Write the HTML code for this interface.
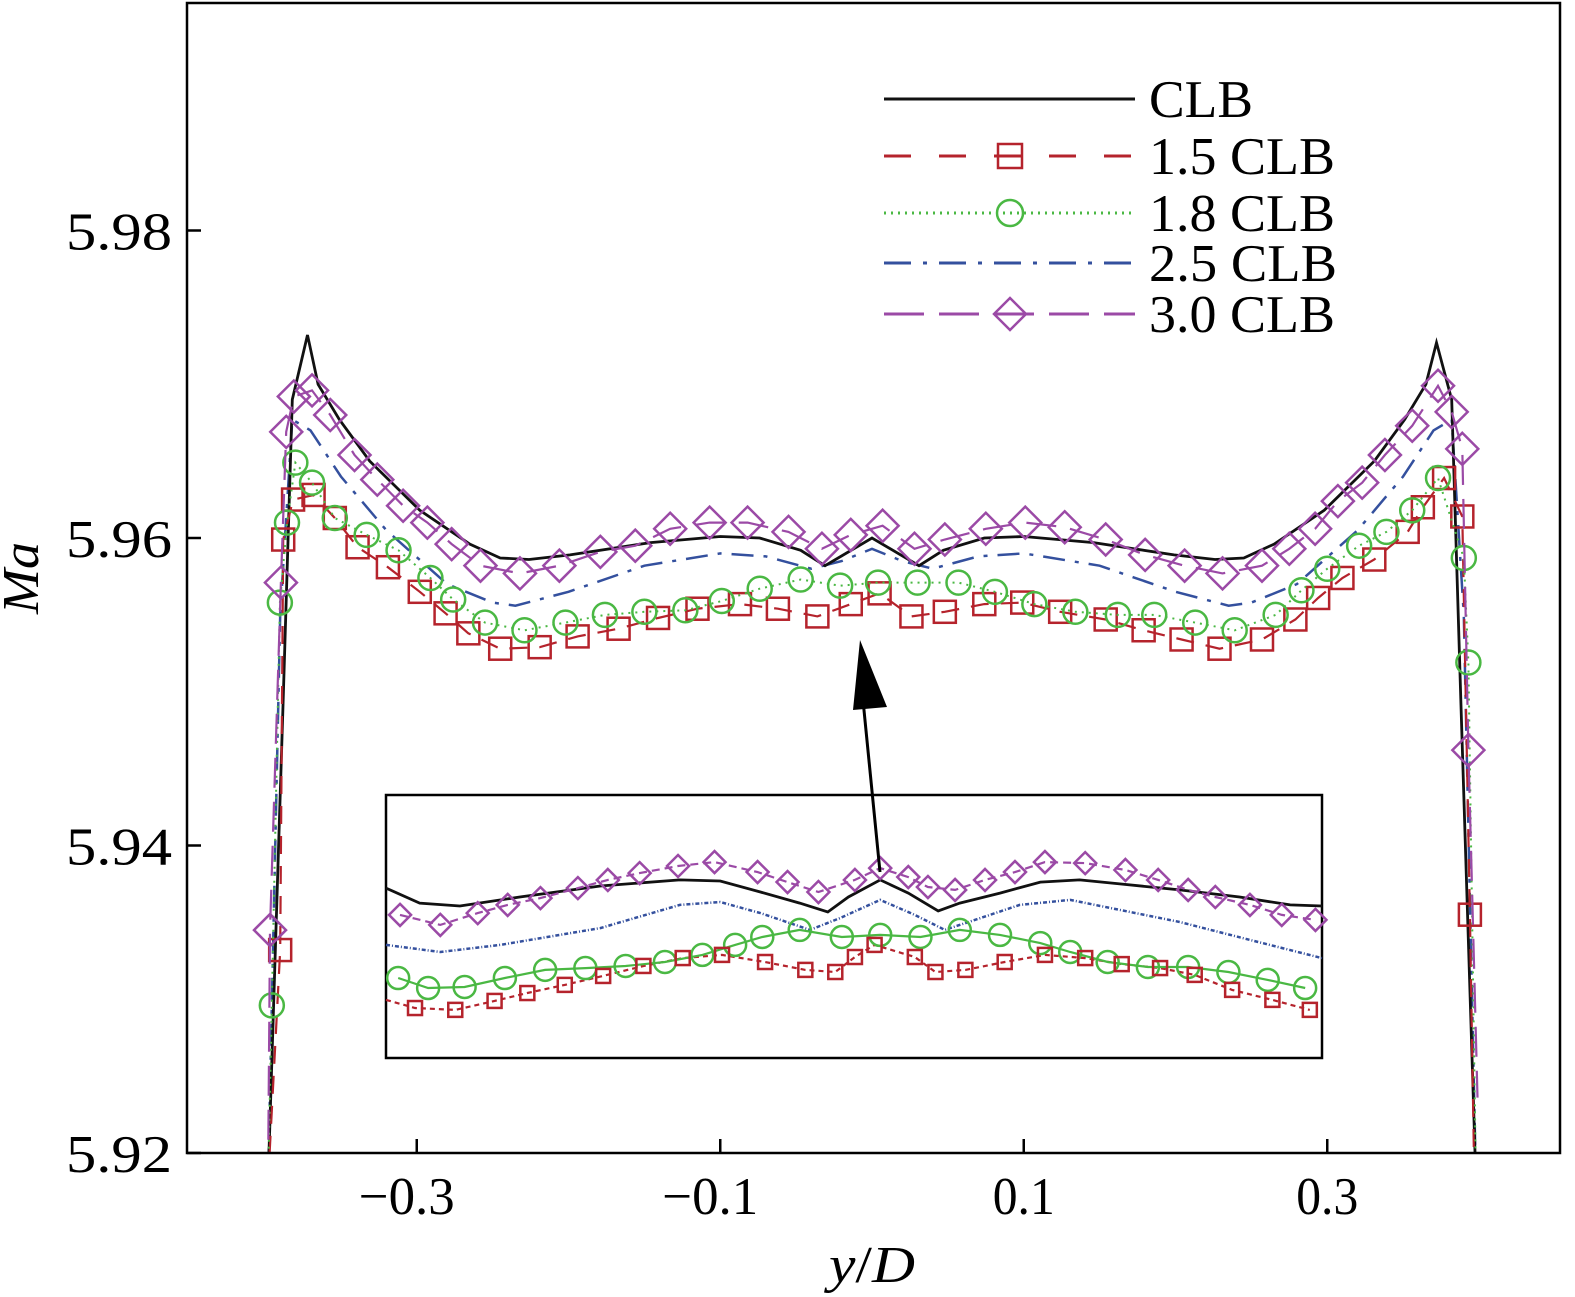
<!DOCTYPE html>
<html><head><meta charset="utf-8"><style>
html,body{margin:0;padding:0;background:#fff;}
svg{display:block;font-family:"Liberation Serif",serif;}
</style></head><body>
<svg id="chart" width="1575" height="1297" viewBox="0 0 1575 1297">
<defs><clipPath id="pc"><rect x="187" y="3" width="1373" height="1150"/></clipPath></defs>
<g id="series" clip-path="url(#pc)"></g>
<g id="inset"></g>
<rect x="187" y="3" width="1373" height="1150" fill="none" stroke="#000" stroke-width="2.5"/>
<g id="axes"></g>
<text x="38" y="578" font-size="52" font-style="italic" text-anchor="middle" transform="rotate(-90 38 578)" textLength="72" lengthAdjust="spacingAndGlyphs">Ma</text>
<text x="872" y="1282" font-size="52" text-anchor="middle" textLength="86" lengthAdjust="spacingAndGlyphs"><tspan font-style="italic">y</tspan>/<tspan font-style="italic">D</tspan></text>
<g id="legend"></g>
<line x1="880" y1="872" x2="862" y2="690" stroke="#000" stroke-width="3"/>
<polygon points="860,640 853,710 887,707" fill="#000"/>
</svg>
<script>
// ---- main chart data ----
const yTicks=[5.92,5.94,5.96,5.98];
const yTickLabels=["5.92","5.94","5.96","5.98"];
const xTicks=[-0.3,-0.1,0.1,0.3];
const xTickLabels=["\u22120.3","\u22120.1","0.1","0.3"];
const clbX=[-0.398,-0.388,-0.382,-0.372,-0.365,-0.351,-0.331,-0.298,-0.265,-0.245,-0.226,-0.199,-0.146,-0.1,-0.074,-0.047,-0.031,0,0.031,0.047,0.074,0.1,0.146,0.199,0.226,0.245,0.265,0.298,0.331,0.351,0.365,0.372,0.382,0.388,0.398];
const clbY=[5.918,5.9495,5.969,5.9732,5.970,5.9677,5.965,5.9618,5.9596,5.9587,5.9586,5.9589,5.9597,5.9601,5.960,5.9592,5.9582,5.960,5.9582,5.9592,5.960,5.9601,5.9597,5.9589,5.9586,5.9587,5.9596,5.9618,5.965,5.9677,5.970,5.9727,5.969,5.9495,5.918];
const b25X=[-0.398,-0.39,-0.382,-0.37,-0.35,-0.32,-0.28,-0.25,-0.235,-0.2,-0.15,-0.1,-0.07,-0.04,-0.02,0,0.02,0.04,0.07,0.1,0.15,0.2,0.235,0.25,0.28,0.32,0.35,0.37,0.382,0.39,0.398];
const b25Y=[5.918,5.955,5.9677,5.967,5.964,5.9605,5.957,5.9558,5.9556,5.9565,5.9582,5.959,5.9588,5.958,5.9585,5.9593,5.9585,5.958,5.9588,5.959,5.9582,5.9565,5.9556,5.9558,5.957,5.9605,5.964,5.967,5.9677,5.955,5.918];
const p30X=[-0.398,-0.3967,-0.3895,-0.386,-0.381,-0.369,-0.357,-0.341,-0.326,-0.309,-0.293,-0.277,-0.258,-0.232,-0.206,-0.179,-0.156,-0.133,-0.107,-0.082,-0.055,-0.033,-0.014,0.007,0.028,0.048,0.075,0.101,0.127,0.154,0.18,0.206,0.231,0.257,0.275,0.292,0.307,0.323,0.338,0.356,0.373,0.382,0.389,0.393,0.399];
const p30Y=[5.918,5.9345,5.9571,5.9669,5.9692,5.9696,5.968,5.9654,5.9638,5.9621,5.961,5.9596,5.9582,5.9577,5.9582,5.9591,5.9595,5.9606,5.961,5.961,5.9604,5.9593,5.9602,5.9608,5.9593,5.9599,5.9606,5.961,5.9607,5.9599,5.9589,5.9582,5.9577,5.9582,5.9593,5.9606,5.9624,5.9636,5.9654,5.9673,5.9699,5.9682,5.9658,5.9462,5.9236];
const r15X=[-0.398,-0.390,-0.388,-0.3815,-0.368,-0.354,-0.339,-0.319,-0.298,-0.281,-0.266,-0.245,-0.219,-0.194,-0.167,-0.141,-0.115,-0.087,-0.062,-0.036,-0.014,0.005,0.026,0.048,0.074,0.099,0.124,0.154,0.179,0.204,0.229,0.257,0.279,0.294,0.310,0.331,0.353,0.363,0.377,0.389,0.394,0.397];
const r15Y=[5.918,5.9332,5.9599,5.9625,5.9628,5.9613,5.9594,5.9581,5.9565,5.9551,5.9538,5.9528,5.9529,5.9536,5.9541,5.9548,5.9554,5.9557,5.9554,5.9549,5.9557,5.9564,5.9549,5.9552,5.9557,5.9558,5.9552,5.9547,5.954,5.9534,5.9528,5.9534,5.9547,5.9561,5.9574,5.9586,5.9604,5.962,5.9639,5.9614,5.9355,5.918];
const g18X=[-0.398,-0.3955,-0.3902,-0.3855,-0.380,-0.369,-0.354,-0.333,-0.312,-0.291,-0.276,-0.255,-0.229,-0.202,-0.176,-0.150,-0.123,-0.099,-0.074,-0.047,-0.021,0.004,0.030,0.057,0.081,0.107,0.134,0.162,0.186,0.213,0.239,0.266,0.283,0.300,0.321,0.339,0.356,0.373,0.390,0.393,0.398];
const g18Y=[5.918,5.9296,5.9558,5.961,5.9649,5.9636,5.9613,5.9602,5.9592,5.9574,5.956,5.9545,5.954,5.9545,5.955,5.9552,5.9553,5.9559,5.9567,5.9573,5.9569,5.9571,5.9571,5.9571,5.9565,5.9557,5.9552,5.955,5.955,5.9545,5.954,5.955,5.9566,5.958,5.9595,5.9604,5.9618,5.9639,5.9587,5.9519,5.918];
// ---- inset data (inset units 0..100) ----
const inPX=[1.5,5.8,9.8,13,16.5,20.5,23.7,27.1,31.2,35.1,39.7,42.9,46.2,50.1,52.8,55.8,57.9,60.8,64,67.2,70.4,74.7,79,82.5,85.7,88.6,92.3,95.7,99.3];
const inPY=[54.4,50.6,55.1,58.2,60.8,64.6,67.7,70.3,73,74.5,70.7,66.9,63.1,67.7,72.2,68.8,65,63.9,67.7,70.7,74.5,74.1,71.5,67.7,63.9,61.2,58.2,54.4,52.5];
const inKX=[0,3.6,7.9,14.3,22.9,31.4,35.7,40,44.2,47.2,49.4,52.8,55.8,59,61.3,65.6,69.9,74.1,78.4,84.8,91.2,96.6,100];
const inKY=[64.6,58.9,57.8,61.2,65.4,67.7,67.3,63.1,58.9,55.5,61.2,67.7,62.7,55.9,58.9,62.7,66.9,67.7,66.2,63.9,61.2,58.2,57.8];
const inBX=[0,5.8,12.2,22.9,31.4,35.7,40,45.3,48.5,52.8,56.5,59.7,63.5,67.7,73.1,78.4,84.8,92.3,100];
const inBY=[43,40.3,43,49.4,58.2,59.3,55.1,48.7,53.2,60.1,54.4,48.7,53.2,58.2,60.1,56.3,51.7,44.9,38];
const inGX=[1.3,4.5,8.4,12.7,17,21.3,25.6,29.8,33.8,37.3,40.2,44.2,48.7,52.8,57.1,61.3,65.6,69.9,73.1,77.1,81.4,85.7,90,94.2,98.2];
const inGY=[30.4,26.6,27,30.4,33.5,34.2,35,36.5,39.2,43,46,48.7,46,46.8,46,48.7,46.8,43.7,40.3,36.5,34.6,34.6,32.7,29.7,26.6];
const inRX=[0,3.1,7.4,11.6,15.1,19.1,23.2,27.5,31.7,35.9,40.5,44.8,48,50.1,52.2,56.5,58.7,61.9,66.1,70.4,74.7,78.6,82.7,86.4,90.4,94.7,98.7];
const inRY=[22.1,19,18.3,21.7,24.7,27.8,31.2,35,38,39.2,36.5,33.5,32.7,38.4,43,38.4,32.7,33.5,36.5,39.2,38,35.7,34.2,31.6,25.9,22.1,18.3];

const NS="http://www.w3.org/2000/svg";
const sx=v=>872+v*1517.5;
const sy=v=>1153-(v-5.92)*15375;
const ix=u=>386+u*9.36;
const iy=v=>1058-v*2.63;
function mk(tag,attrs,parent){const e=document.createElementNS(NS,tag);for(const k in attrs)e.setAttribute(k,attrs[k]);parent.appendChild(e);return e;}
function pathD(xs,ys,fx,fy){return xs.map((x,i)=>(i?"L":"M")+fx(x).toFixed(1)+","+fy(ys[i]).toFixed(1)).join("");}
function marker(type,cx,cy,col,sz,parent){
  let e;
  if(type==="sq"){e=mk("rect",{x:cx-sz,y:cy-sz,width:2*sz,height:2*sz,fill:"none",stroke:col,"stroke-width":2.5},parent);}
  else if(type==="ci"){e=mk("circle",{cx:cx,cy:cy,r:sz,fill:"none",stroke:col,"stroke-width":2.5},parent);}
  else {e=mk("polygon",{points:`${cx},${cy-sz} ${cx+sz},${cy} ${cx},${cy+sz} ${cx-sz},${cy}`,fill:"none",stroke:col,"stroke-width":2.5},parent);}
  return e;
}
const RED="#b5232c",GRN="#4ab843",BLU="#34509e",PUR="#9b4aa6";
const S=document.getElementById("series");
function series(name,xs,ys,col,dash,w,mtype,msz,fx,fy,parent,skipFirstMarker){
  const g=mk("g",{},parent);
  
  
  const p=mk("path",{d:pathD(xs,ys,fx,fy),fill:"none",stroke:col,"stroke-width":w,"stroke-dasharray":dash},g);
  
  
  if(mtype){xs.forEach((x,i)=>{if(skipFirstMarker&&(i===0||i===xs.length-1))return;
    const m=marker(mtype,fx(x),fy(ys[i]),col,msz,g);
    
    });}
}
series("series-2.5clb",b25X,b25Y,BLU,"22 10 4 10",2.5,null,0,sx,sy,S);
series("series-clb",clbX,clbY,"#111","",2.8,null,0,sx,sy,S);
series("series-1.5clb",r15X,r15Y,RED,"18 12",2.2,"sq",11,sx,sy,S,true);
series("series-1.8clb",g18X,g18Y,GRN,"2 5",2,"ci",12,sx,sy,S,true);
series("series-3.0clb",p30X,p30Y,PUR,"30 14",2.2,"di",16,sx,sy,S,true);

// inset
const I=document.getElementById("inset");
const ib=mk("rect",{x:386,y:795,width:936,height:263,fill:"#fff",stroke:"#000","stroke-width":2.5},I);


series("inset-2.5clb",inBX,inBY,BLU,"4 2 1 2",2.5,null,0,ix,iy,I);
series("inset-clb",inKX,inKY,"#111","",2.8,null,0,ix,iy,I);
series("inset-1.5clb",inRX,inRY,RED,"5 4",2.2,null,0,ix,iy,I);
series("inset-1.8clb",inGX,inGY,GRN,"",2.2,"ci",11,ix,iy,I);
series("inset-3.0clb",inPX,inPY,PUR,"8 5",2.2,"di",11,ix,iy,I);
inRX.forEach((x,i)=>{if(i===0)return;
  const m=marker("sq",ix(x),iy(inRY[i]),RED,7,I);
  
  });

// axes
const A=document.getElementById("axes");
yTicks.forEach((v,i)=>{
  const t=mk("line",{x1:187,x2:201,y1:sy(v),y2:sy(v),stroke:"#000","stroke-width":2.5},A);
  
  
  const l=mk("text",{x:66,y:sy(v)+19,"font-size":53,textLength:106,lengthAdjust:"spacingAndGlyphs"},A);
  l.textContent=yTickLabels[i];
  
  
});
xTicks.forEach((v,i)=>{
  const t=mk("line",{x1:sx(v),x2:sx(v),y1:1153,y2:1139,stroke:"#000","stroke-width":2.5},A);
  
  
  const w=v<0?96:62;
  const l=mk("text",{x:sx(v)+(v<0?-10:0)-w/2,y:1214,"font-size":53,textLength:w,lengthAdjust:"spacingAndGlyphs"},A);
  l.textContent=xTickLabels[i];
  
  
});

// legend
const L=document.getElementById("legend");
const legNames=["CLB","1.5 CLB","1.8 CLB","2.5 CLB","3.0 CLB"];
const legW=[104,186,186,188,186];
const legCols=["#111",RED,GRN,BLU,PUR];
const legDash=["","27 28","2 5","27 12 4 12","40 15"];
const legMk=[null,"sq","ci",null,"di"];
const legY=[99,156,213,263,314];
legNames.forEach((n,i)=>{
  const g=mk("g",{},L);
  
  
  mk("line",{x1:884,x2:1135,y1:legY[i],y2:legY[i],stroke:legCols[i],"stroke-width":3,"stroke-dasharray":legDash[i]},g);
  if(legMk[i])marker(legMk[i],1010,legY[i],legCols[i],legMk[i]==="sq"?12:(legMk[i]==="ci"?13:16),g);
  const t=mk("text",{x:1149,y:legY[i]+18,"font-size":53,textLength:legW[i],lengthAdjust:"spacingAndGlyphs"},g);
  t.textContent=n;
});
</script>
</body></html>
